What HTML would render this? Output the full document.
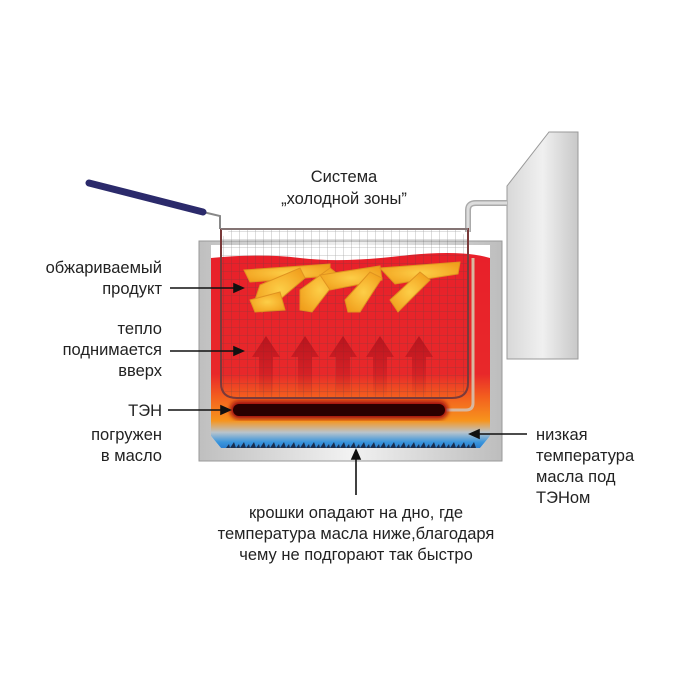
<!DOCTYPE html>
<html><head><meta charset="utf-8"><style>
body{margin:0;background:#fff;width:700px;height:700px;overflow:hidden}
svg{display:block}
text{font-family:"Liberation Sans","DejaVu Sans",sans-serif;font-size:16.5px;fill:#222}
</style></head><body>
<svg width="700" height="700" viewBox="0 0 700 700" xmlns="http://www.w3.org/2000/svg">
<defs>
<linearGradient id="oil" x1="0" y1="0" x2="0" y2="1">
<stop offset="0" stop-color="#e8202a"/>
<stop offset="0.62" stop-color="#e8282a"/>
<stop offset="0.74" stop-color="#f3601e"/>
<stop offset="0.86" stop-color="#f7941d"/>
<stop offset="0.92" stop-color="#b9c4cc"/>
<stop offset="0.97" stop-color="#3a95dc"/>
<stop offset="1" stop-color="#2a7fd0"/>
</linearGradient>
<linearGradient id="steel" x1="0" y1="0" x2="1" y2="0">
<stop offset="0" stop-color="#bfbfbf"/><stop offset="0.5" stop-color="#f2f2f2"/><stop offset="1" stop-color="#bdbdbd"/>
</linearGradient>
<linearGradient id="panel" x1="0" y1="0" x2="1" y2="0">
<stop offset="0" stop-color="#d8d8d8"/><stop offset="0.5" stop-color="#f0f0f0"/><stop offset="1" stop-color="#c8c8c8"/>
</linearGradient>
<linearGradient id="arr" x1="0" y1="0" x2="0" y2="1">
<stop offset="0" stop-color="#a8101a" stop-opacity="0.75"/><stop offset="1" stop-color="#a8101a" stop-opacity="0"/>
</linearGradient>
<pattern id="grid" width="8" height="8" patternUnits="userSpaceOnUse">
<path d="M8 0V8H0" fill="none" stroke="#444" stroke-opacity="0.45" stroke-width="0.8"/>
</pattern>
<pattern id="crumb" width="10" height="8" patternUnits="userSpaceOnUse">
<path d="M0,8 L4,2 L6,8 Z M6,8 L9,4 L10,8 Z" fill="#1a3050"/>
</pattern>
<radialGradient id="food" cx="0.5" cy="0.5" r="0.6">
<stop offset="0" stop-color="#ffd84a"/><stop offset="1" stop-color="#f2a61c"/>
</radialGradient>
<filter id="blur"><feGaussianBlur stdDeviation="2"/></filter>
</defs>
<!-- right panel -->
<polygon points="507,186 549,132 578,132 578,359 507,359" fill="url(#panel)" stroke="#999" stroke-width="1"/>
<path d="M468,232 V210 Q468,203 476,203 H507" fill="none" stroke="#aaa" stroke-width="6"/>
<path d="M468,232 V210 Q468,203 476,203 H507" fill="none" stroke="#ddd" stroke-width="3"/>
<!-- tank -->
<rect x="199" y="241" width="303" height="220" fill="url(#steel)" stroke="#999"/>
<path d="M211,245 H490 V436 L480,448 H221 L211,436 Z" fill="#fff"/>
<path d="M211,258 Q260,253 300,258 T400,256 T490,258 V436 L480,448 H221 L211,436 Z" fill="url(#oil)"/>
<rect x="226" y="440" width="250" height="8" fill="url(#crumb)"/>
<!-- basket -->
<rect x="221" y="229" width="247" height="170" rx="16" fill="url(#grid)"/>
<path d="M221,229 V383 Q221,398 237,398 H452 Q468,398 468,383 V229 Z" fill="none" stroke="#7a3a3a" stroke-width="2"/>
<line x1="221" y1="229" x2="468" y2="229" stroke="#888" stroke-width="1.5"/>
<!-- food -->
<g fill="url(#food)" stroke="#e09a20" stroke-width="1" opacity="0.95">
<path d="M244,270 L330,264 L330,276 L250,282 Z"/>
<path d="M260,285 L300,268 L305,278 L270,308 L262,312 L255,300 Z"/>
<path d="M300,290 L330,268 L340,276 L312,312 L300,310 Z"/>
<path d="M320,275 L380,266 L382,280 L330,290 Z"/>
<path d="M345,300 L370,272 L382,278 L360,312 L348,312 Z"/>
<path d="M380,268 L460,262 L458,274 L395,284 Z"/>
<path d="M390,300 L420,272 L430,280 L398,312 Z"/>
<path d="M250,300 L280,292 L285,310 L255,312 Z"/>
</g>
<!-- heat arrows -->
<g fill="url(#arr)">
<path d="M252,357 L266,336 L280,357 H273 V398 H259 V357 Z"/>
<path d="M291,357 L305,336 L319,357 H312 V398 H298 V357 Z"/>
<path d="M329,357 L343,336 L357,357 H350 V398 H336 V357 Z"/>
<path d="M366,357 L380,336 L394,357 H387 V398 H373 V357 Z"/>
<path d="M405,357 L419,336 L433,357 H426 V398 H412 V357 Z"/>
</g>
<!-- heater -->
<path d="M446,410 H466 Q473,410 473,403 V258" fill="none" stroke="#d8b8a0" stroke-width="3"/>
<rect x="230" y="401" width="218" height="18" rx="9" fill="#a01010" filter="url(#blur)"/>
<rect x="233" y="404" width="212" height="12" rx="6" fill="#2a0000"/>
<!-- handle -->
<path d="M203,212 L220,216 V229" fill="none" stroke="#888" stroke-width="2"/>
<line x1="89" y1="183" x2="203" y2="212" stroke="#2b2a6b" stroke-width="7" stroke-linecap="round"/>
<!-- leader lines -->
<g stroke="#111" stroke-width="1.6" fill="#111">
<line x1="170" y1="288" x2="235" y2="288"/><path d="M243,288 l-9,-4 v8z"/>
<line x1="170" y1="351" x2="235" y2="351"/><path d="M243,351 l-9,-4 v8z"/>
<line x1="168" y1="410" x2="222" y2="410"/><path d="M230,410 l-9,-4 v8z"/>
<line x1="527" y1="434" x2="478" y2="434"/><path d="M470,434 l9,-4 v8z"/>
<line x1="356" y1="495" x2="356" y2="458"/><path d="M356,450 l-4,9 h8z"/>
</g>
<g text-anchor="end">
<text x="162" y="273">обжариваемый</text>
<text x="162" y="294">продукт</text>
<text x="162" y="334">тепло</text>
<text x="162" y="355">поднимается</text>
<text x="162" y="376">вверх</text>
<text x="162" y="416">ТЭН</text>
<text x="162" y="440">погружен</text>
<text x="162" y="461">в масло</text>
</g>
<text x="536" y="440">низкая</text>
<text x="536" y="461">температура</text>
<text x="536" y="482">масла под</text>
<text x="536" y="503">ТЭНом</text>
<g text-anchor="middle">
<text x="344" y="182">Система</text>
<text x="344" y="204">„холодной зоны”</text>
<text x="356" y="518">крошки опадают на дно, где</text>
<text x="356" y="539">температура масла ниже,благодаря</text>
<text x="356" y="560">чему не подгорают так быстро</text>
</g>
</svg>
</body></html>
